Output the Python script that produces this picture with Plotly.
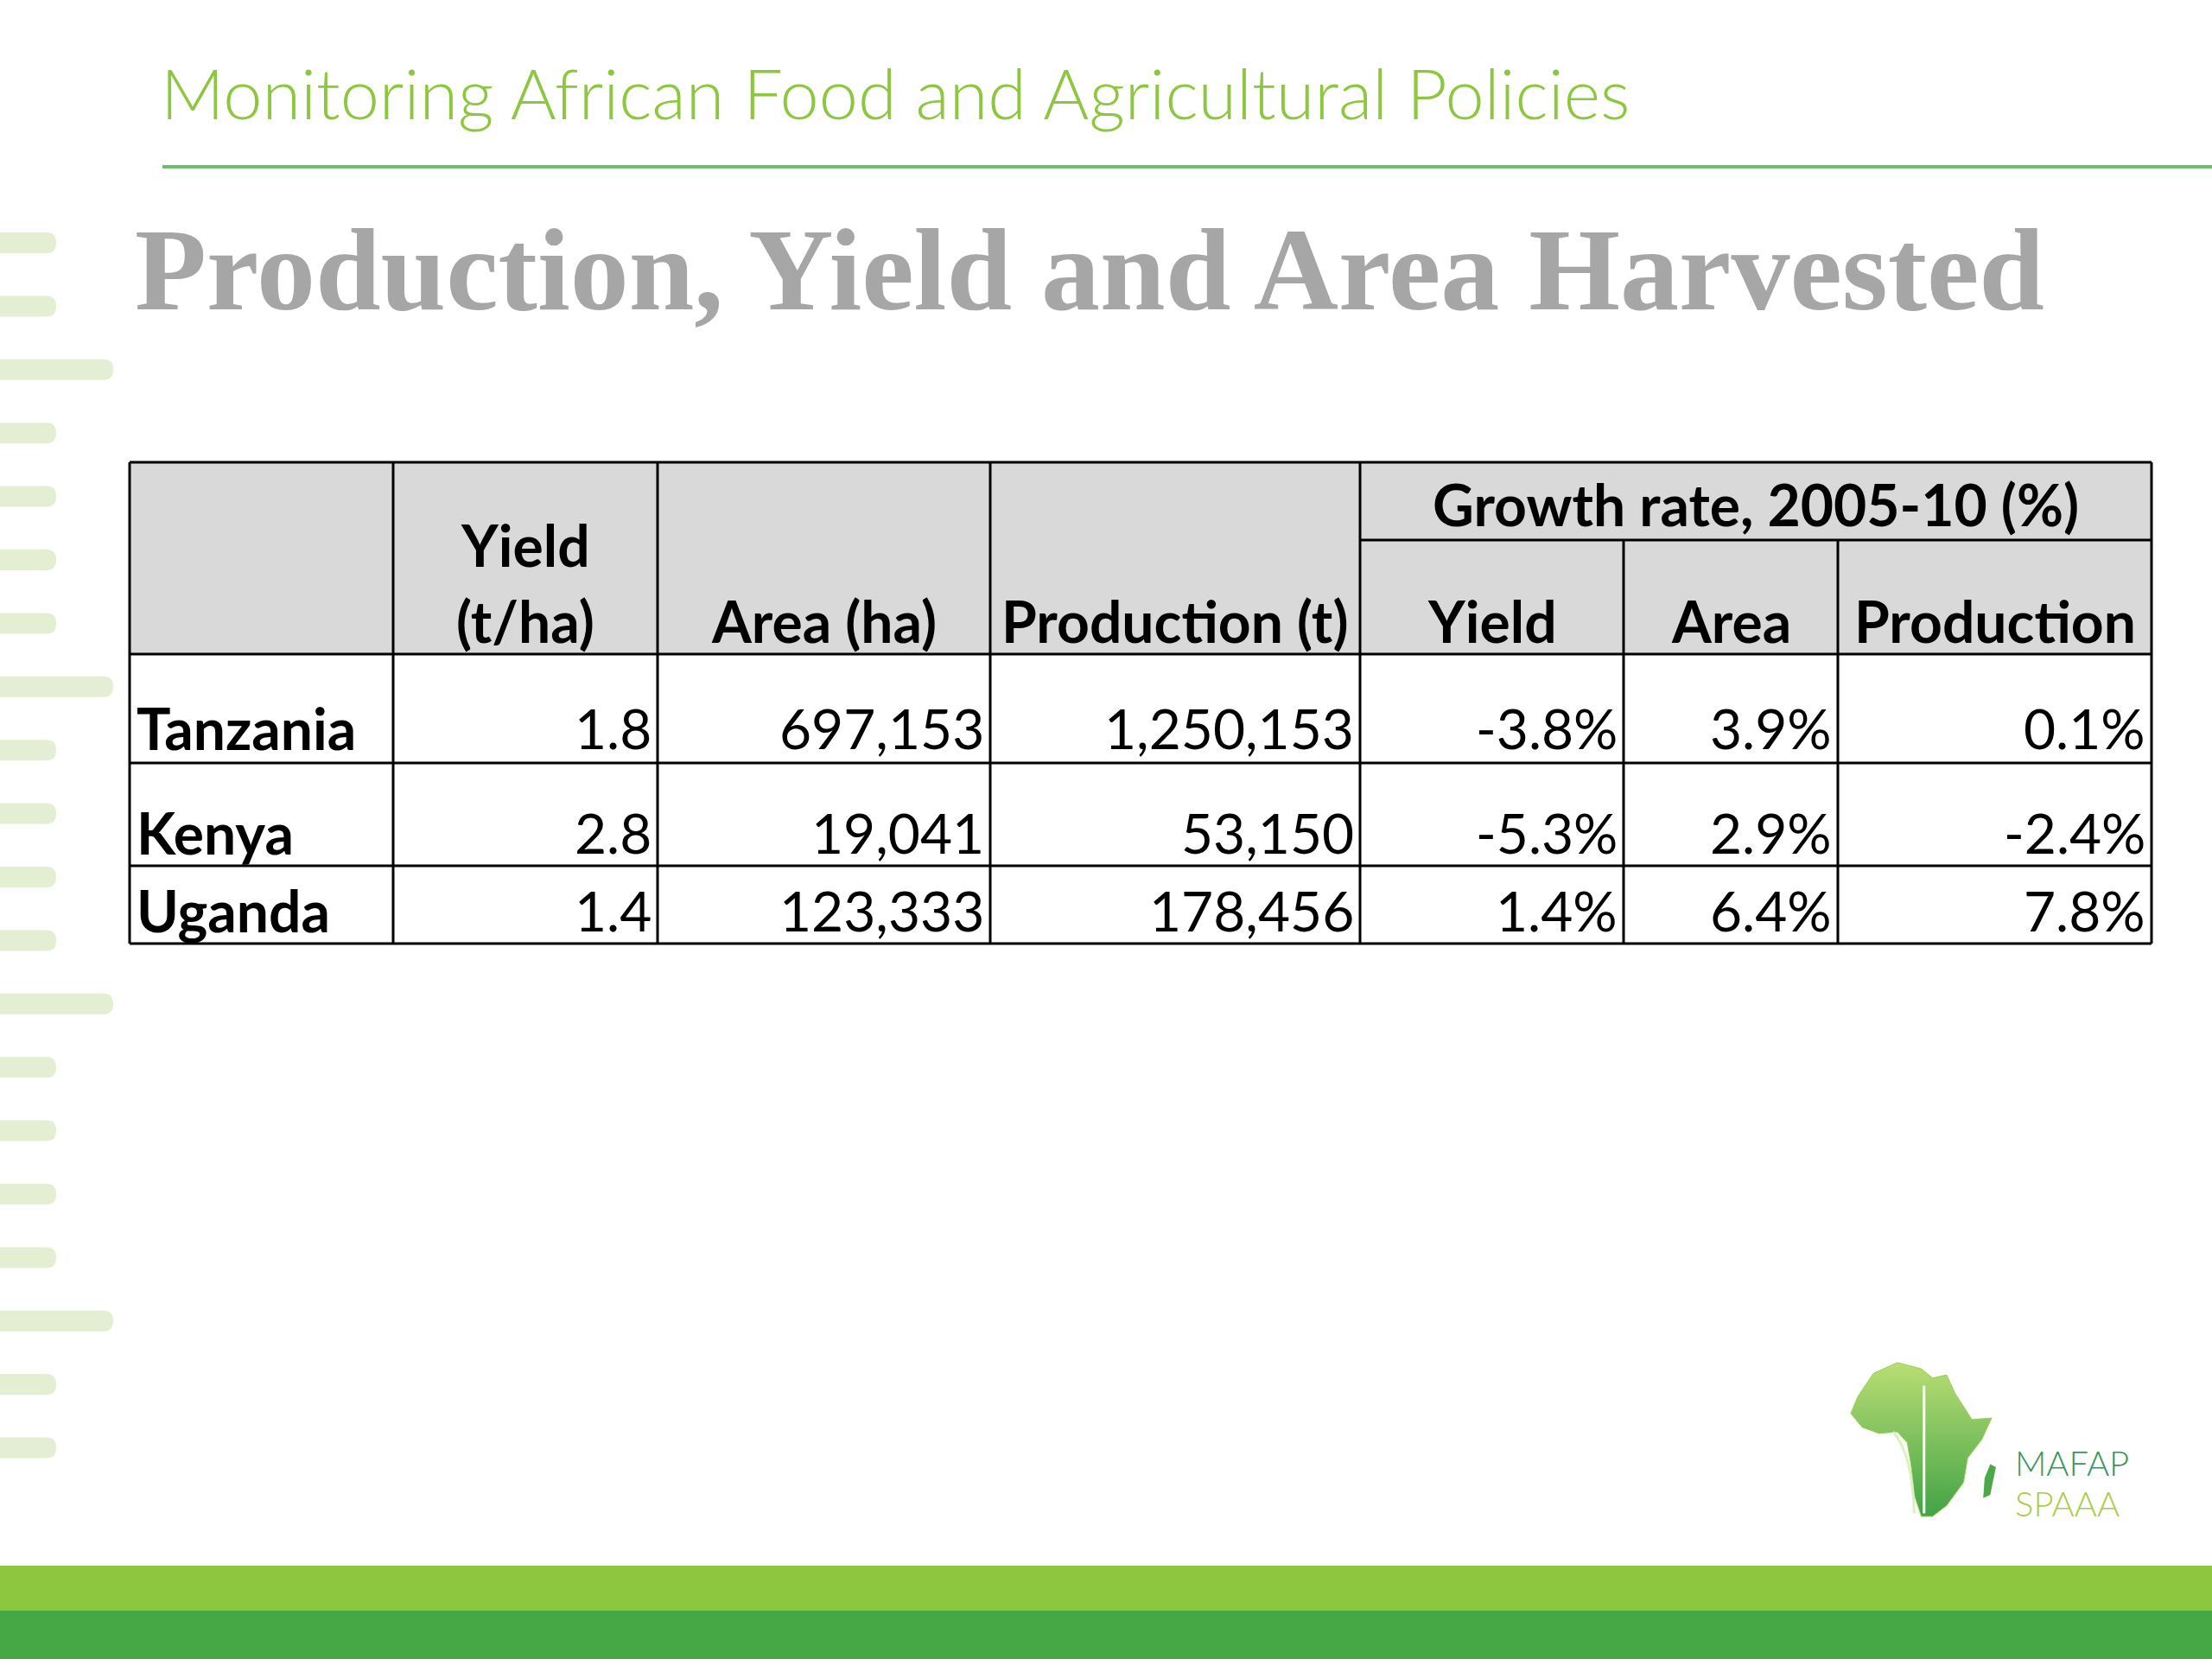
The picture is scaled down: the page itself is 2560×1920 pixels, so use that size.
import plotly.graph_objects as go

# ---------------- data ----------------
countries = ["Tanzania", "Kenya", "Uganda"]
yield_t_ha = [1.8, 2.8, 1.4]
area_ha = [697153, 19041, 123333]
production_t = [1250153, 53150, 178456]
growth_yield = [-3.8, -5.3, 1.4]
growth_area = [3.9, 2.9, 6.4]
growth_production = [0.1, -2.4, 7.8]

col_headers = ["Yield<br>(t/ha)", "Area (ha)", "Production (t)"]
group_header = "Growth rate, 2005-10 (%)"
growth_headers = ["Yield", "Area", "Production"]

header_title = "Monitoring African Food and Agricultural Policies"
slide_title = "Production, Yield and Area Harvested"

# ---------------- layout geometry (pixels) ----------------
W, H = 2560, 1920
col_x = [150, 455, 761, 1146, 1574, 1879, 2127, 2490]
row_y = [535, 625, 757, 883, 1002, 1092]   # top, group line, header bottom, row bottoms
row_text_y = [842, 963, 1053]
LINE = "#000000"
TXT_FONT = "Lato"
BODY_SIZE = 64
BOLD_SIZE = 66

fig = go.Figure()
shapes = []
ann = []

# left decorative bars
bar_y0 = 281
for i in range(20):
    yc = bar_y0 + i * 73.4
    long = (i % 5 == 2)
    x1 = 131 if long else 65
    h = 12
    r = 11
    path = (f"M 0 {yc-h} L {x1-r} {yc-h} Q {x1} {yc-h} {x1} {yc} "
            f"Q {x1} {yc+h} {x1-r} {yc+h} L 0 {yc+h} Z")
    shapes.append(dict(type="path", path=path, xref="x", yref="y",
                       fillcolor="#E4EED3", line=dict(width=0), layer="below"))

# header line
shapes.append(dict(type="line", x0=188, x1=W, y0=193, y1=193, xref="x", yref="y",
                   line=dict(color="#6DBE6D", width=4)))

# bottom bands
shapes.append(dict(type="rect", x0=0, x1=W, y0=1812, y1=1864, xref="x", yref="y",
                   fillcolor="#8DC63F", line=dict(width=0)))
shapes.append(dict(type="rect", x0=0, x1=W, y0=1864, y1=H, xref="x", yref="y",
                   fillcolor="#45A844", line=dict(width=0)))

# table header fill
shapes.append(dict(type="rect", x0=col_x[0], x1=col_x[-1], y0=row_y[0], y1=row_y[2],
                   xref="x", yref="y", fillcolor="#D9D9D9", line=dict(width=0),
                   layer="below"))
# table horizontal lines
for yy in [row_y[0], row_y[2], row_y[3], row_y[4], row_y[5]]:
    shapes.append(dict(type="line", x0=col_x[0], x1=col_x[-1], y0=yy, y1=yy,
                       xref="x", yref="y", line=dict(color=LINE, width=3)))
shapes.append(dict(type="line", x0=col_x[4], x1=col_x[-1], y0=row_y[1], y1=row_y[1],
                   xref="x", yref="y", line=dict(color=LINE, width=3)))
# vertical lines
for i, xx in enumerate(col_x):
    y0 = row_y[1] if i in (5, 6) else row_y[0]
    shapes.append(dict(type="line", x0=xx, x1=xx, y0=y0, y1=row_y[5],
                       xref="x", yref="y", line=dict(color=LINE, width=3)))

# header texts
hdr_font = dict(family=TXT_FONT, size=BOLD_SIZE, color="#000000", weight="bold")
def centre(i):
    return (col_x[i] + col_x[i + 1]) / 2

ann.append(dict(x=centre(1), y=630, text="Yield", showarrow=False, font=hdr_font,
                xanchor="center", yanchor="middle"))
ann.append(dict(x=centre(1), y=718, text="(t/ha)", showarrow=False, font=hdr_font,
                xanchor="center", yanchor="middle"))
for i, t in enumerate(col_headers[1:]):
    ann.append(dict(x=centre(i + 2), y=718, text=t, showarrow=False, font=hdr_font,
                    xanchor="center", yanchor="middle"))
ann.append(dict(x=(col_x[4] + col_x[7]) / 2, y=583, text=group_header, showarrow=False,
                font=hdr_font, xanchor="center", yanchor="middle"))
for i, t in enumerate(growth_headers):
    ann.append(dict(x=centre(i + 4), y=718, text=t, showarrow=False, font=hdr_font,
                    xanchor="center", yanchor="middle"))

# body texts
body_font = dict(family=TXT_FONT, size=BODY_SIZE, color="#000000")
columns = [
    [f"{v:.1f}" for v in yield_t_ha],
    [f"{v:,}" for v in area_ha],
    [f"{v:,}" for v in production_t],
    [f"{v:.1f}%" for v in growth_yield],
    [f"{v:.1f}%" for v in growth_area],
    [f"{v:.1f}%" for v in growth_production],
]
for r, c in enumerate(countries):
    ann.append(dict(x=col_x[0] + 6, y=row_text_y[r], text=c, showarrow=False,
                    font=hdr_font, xanchor="left", yanchor="middle"))
    for j, col in enumerate(columns):
        ann.append(dict(x=col_x[j + 2] - 5, y=row_text_y[r], text=col[r], showarrow=False,
                        font=body_font, xanchor="right", yanchor="middle"))

# titles
ann.append(dict(x=184, y=106, text=header_title, showarrow=False,
                font=dict(family="Lato", size=81, color="#8DC63F", weight=300),
                xanchor="left", yanchor="middle"))
ann.append(dict(x=154, y=312, text=slide_title, showarrow=False,
                font=dict(family="Liberation Serif", size=136, color="#A6A6A6", weight="bold"),
                xanchor="left", yanchor="middle"))

# logo: Africa silhouette
lx, ly, lw, lh = 2142, 1577, 163, 178
africa = [(0.05, 0.22), (0.16, 0.07), (0.33, 0.0), (0.5, 0.04), (0.58, 0.1), (0.68, 0.08),
          (0.74, 0.2), (0.86, 0.37), (1.0, 0.36), (0.93, 0.5), (0.83, 0.62), (0.8, 0.78),
          (0.68, 0.93), (0.58, 1.0), (0.5, 1.0), (0.45, 0.86), (0.43, 0.68), (0.4, 0.52),
          (0.33, 0.45), (0.2, 0.46), (0.08, 0.42), (0.0, 0.33), (0.05, 0.22)]
fig.add_trace(go.Scatter(
    x=[lx + a * lw for a, b in africa], y=[ly + b * lh for a, b in africa],
    mode="lines", fill="toself", line=dict(color="#9ACF52", width=1),
    fillgradient=dict(type="vertical",
                      colorscale=[[0, "#43A347"], [1, "#B9DE74"]]),
    hoverinfo="skip", showlegend=False))
# Madagascar
shapes.append(dict(type="path",
                   path=f"M {lx+0.99*lw} {ly+0.66*lh} L {lx+1.03*lw} {ly+0.68*lh} "
                        f"L {lx+0.99*lw} {ly+0.86*lh} L {lx+0.94*lw} {ly+0.88*lh} "
                        f"L {lx+0.95*lw} {ly+0.75*lh} Z",
                   xref="x", yref="y", fillcolor="#4DA84A", line=dict(width=0)))
# stalk and ruler lines
shapes.append(dict(type="path",
                   path=f"M {lx+0.3*lw} {ly+0.45*lh} Q {lx+0.44*lw} {ly+0.6*lh} {lx+0.45*lw} {ly+0.98*lh}",
                   xref="x", yref="y", line=dict(color="#DDF0C0", width=3)))
shapes.append(dict(type="line", x0=lx + 0.52 * lw, x1=lx + 0.52 * lw, y0=ly + 0.15 * lh,
                   y1=ly + 0.98 * lh, xref="x", yref="y",
                   line=dict(color="#FFFFFF", width=3)))
ann.append(dict(x=2330, y=1693, text="MAFAP", showarrow=False,
                font=dict(family="Lato", size=40, color="#3E9460", weight=300),
                xanchor="left", yanchor="middle"))
ann.append(dict(x=2330, y=1740, text="SPAAA", showarrow=False,
                font=dict(family="Lato", size=40, color="#A9CD4A", weight=300),
                xanchor="left", yanchor="middle"))

fig.update_layout(
    width=W, height=H, margin=dict(l=0, r=0, t=0, b=0),
    paper_bgcolor="#FFFFFF", plot_bgcolor="#FFFFFF",
    xaxis=dict(range=[0, W], visible=False, fixedrange=True),
    yaxis=dict(range=[H, 0], visible=False, fixedrange=True),
    shapes=shapes, annotations=ann, showlegend=False,
)
fig.write_html("out.html", config={"displayModeBar": False},
               post_script="document.body.style.margin='0';")
